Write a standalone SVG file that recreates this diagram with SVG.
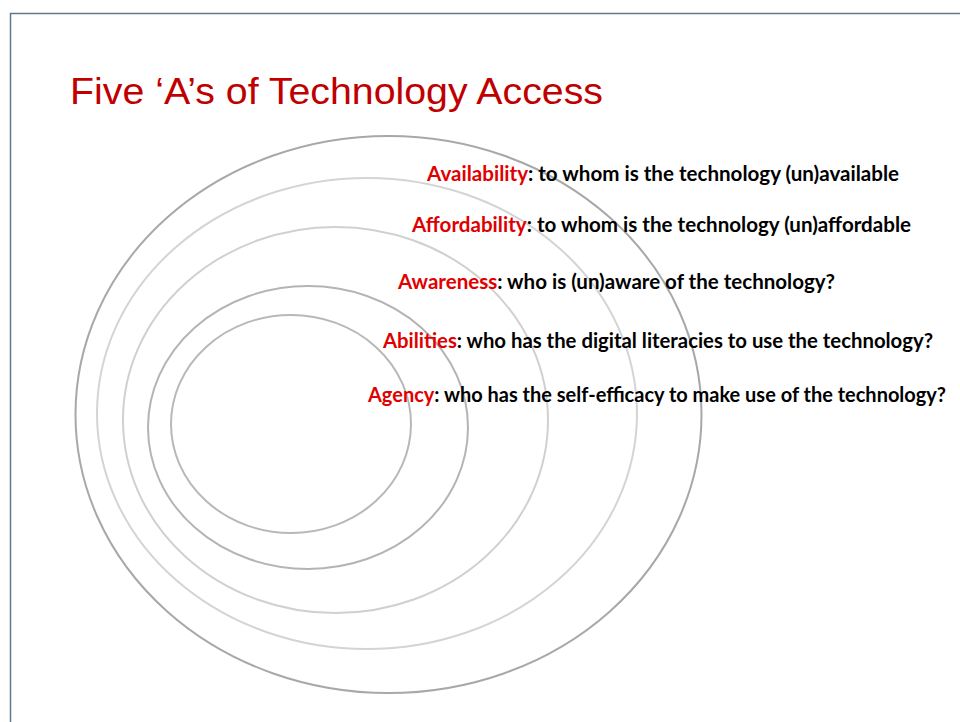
<svg xmlns="http://www.w3.org/2000/svg" width="960" height="722" viewBox="0 0 960 722">
<style>
.ring{fill:none;stroke-width:2}
.t{font-family:Lato,"Open Sans","Liberation Sans",sans-serif;font-weight:bold;font-size:21px;fill:#000}
.k{fill:#e00000}
</style>
<rect x="0" y="0" width="960" height="722" fill="#fff"/>
<rect x="10.5" y="13.5" width="960" height="720" fill="none" stroke="#66788a" stroke-width="1.5"/>
<text id="title" x="70" y="104" font-family="Liberation Sans,Arial,sans-serif" font-size="37" fill="#c00000" textLength="533" lengthAdjust="spacingAndGlyphs">Five ‘A’s of Technology Access</text>
<g id="rings">
<ellipse id="ring-availability" class="ring" cx="388.5" cy="414.5" rx="313" ry="278.5" stroke="#a8a8a8"/>
<ellipse id="ring-affordability" class="ring" cx="367" cy="413.5" rx="270" ry="235.5" stroke="#d4d4d4"/>
<ellipse id="ring-awareness" class="ring" cx="335.5" cy="420" rx="212.5" ry="193" stroke="#d0d0d0"/>
<ellipse id="ring-abilities" class="ring" cx="308" cy="427.5" rx="160" ry="141.5" stroke="#b4b4b4"/>
<ellipse id="ring-agency" class="ring" cx="291" cy="424" rx="120" ry="109" stroke="#b8b8b8"/>
</g>
<g id="labels">
<text id="l1" class="t" x="427" y="181" textLength="472" lengthAdjust="spacingAndGlyphs"><tspan class="k">Availability</tspan>: to whom is the technology (un)available</text>
<text id="l2" class="t" x="412" y="232" textLength="499" lengthAdjust="spacingAndGlyphs"><tspan class="k">Affordability</tspan>: to whom is the technology (un)affordable</text>
<text id="l3" class="t" x="398" y="289" textLength="437" lengthAdjust="spacingAndGlyphs"><tspan class="k">Awareness</tspan>: who is (un)aware of the technology?</text>
<text id="l4" class="t" x="383" y="348" textLength="550" lengthAdjust="spacingAndGlyphs"><tspan class="k">Abilities</tspan>: who has the digital literacies to use the technology?</text>
<text id="l5" class="t" x="368" y="402" font-size="20.5" textLength="578" lengthAdjust="spacingAndGlyphs"><tspan class="k">Agency</tspan>: who has the self-efficacy to make use of the technology?</text>
</g>
</svg>
